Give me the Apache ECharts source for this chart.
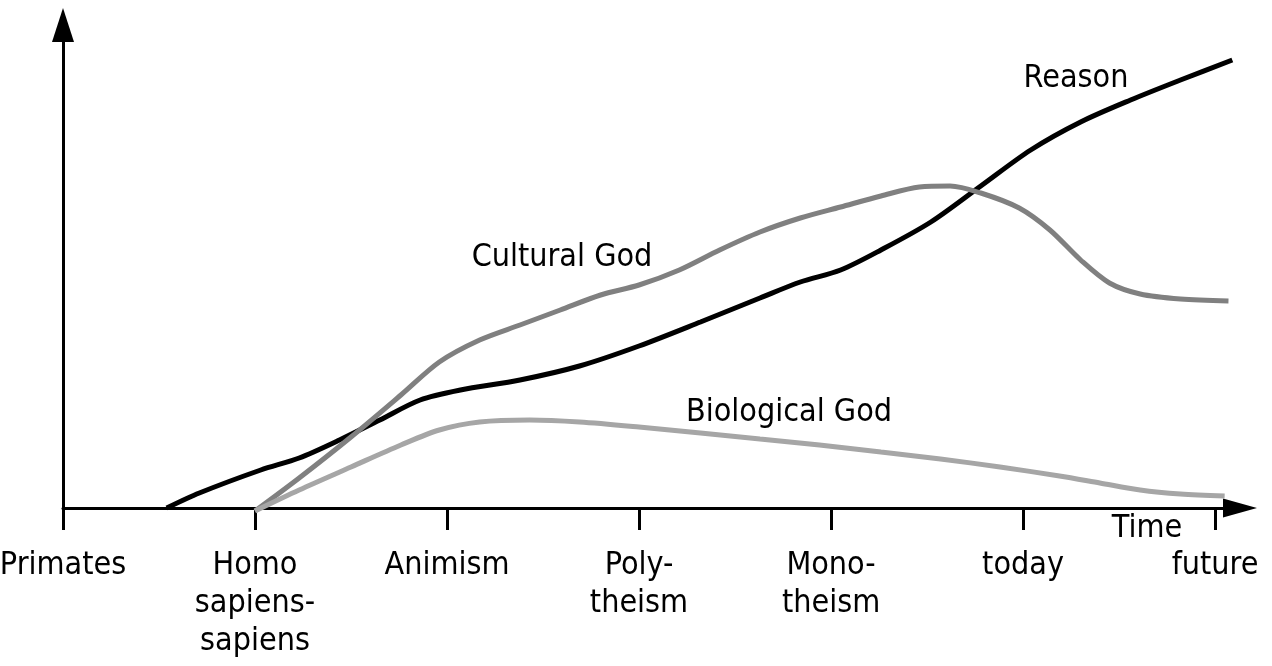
<!DOCTYPE html>
<html>
<head>
<meta charset="utf-8">
<script src="https://cdn.jsdelivr.net/npm/echarts@6/dist/echarts.min.js"></script>
<style>
html, body { margin: 0; padding: 0; background: #fff; }
#main { width: 1272px; height: 666px; }
</style>
</head>
<body>
<div id="main"></div>
<script>
var stages = ['Primates', 'Homo\nsapiens-\nsapiens', 'Animism', 'Poly-\ntheism', 'Mono-\ntheism', 'today', 'future'];

var reason = [
    [0.54, 0], [0.71, 15], [1.03, 38], [1.23, 50], [1.44, 68], [1.65, 88], [1.86, 108],
    [2.07, 118], [2.38, 128], [2.69, 142], [3.0, 162], [3.32, 186], [3.63, 210], [3.84, 226],
    [4.05, 238], [4.26, 258], [4.52, 286], [4.78, 322], [5.04, 358], [5.3, 386], [5.56, 408],
    [5.82, 428], [6.09, 448]
];
var culturalGod = [
    [1.0, -3], [1.23, 30], [1.5, 71], [1.76, 113], [1.96, 146], [2.17, 168], [2.38, 183],
    [2.59, 198], [2.8, 213], [3.0, 223], [3.21, 238], [3.42, 258], [3.63, 276], [3.84, 290],
    [4.05, 301], [4.26, 312], [4.46, 321], [4.62, 322], [4.78, 315], [4.98, 300], [5.14, 278],
    [5.3, 248], [5.45, 225], [5.61, 214], [5.82, 209], [6.07, 207]
];
var biologicalGod = [
    [1.0, -3], [1.23, 18], [1.5, 41], [1.76, 63], [1.96, 78], [2.17, 86], [2.43, 88],
    [2.69, 86], [3.0, 81], [3.32, 75], [3.63, 69], [3.94, 63], [4.26, 56], [4.57, 49],
    [4.88, 41], [5.19, 32], [5.4, 25], [5.61, 18], [5.82, 14], [6.05, 12]
];

var font = '"DejaVu Sans Condensed", "DejaVu Sans"';
var chart = echarts.init(document.getElementById('main'));

function label(text, x, y) {
    return {
        type: 'text', x: x, y: y,
        style: { text: text, font: '32px ' + font, fill: '#000', align: 'center', verticalAlign: 'middle' }
    };
}

var option = {
    animation: false,
    backgroundColor: '#fff',
    grid: { left: 63, right: 32, top: 25, bottom: 158, containLabel: false, outerBoundsMode: 'none' },
    xAxis: {
        type: 'value', min: 0, max: 6.13, interval: 1,
        splitLine: { show: false },
        axisLine: { lineStyle: { color: '#000', width: 3 }, symbol: ['none', 'triangle'], symbolSize: [19, 34] },
        axisTick: { length: 22, lineStyle: { color: '#000', width: 3 }, customValues: [0, 1, 2, 3, 4, 5, 6] },
        axisLabel: {
            customValues: [0, 1, 2, 3, 4, 5, 6],
            formatter: function (v) { return stages[Math.round(v)] || ''; },
            fontFamily: font, fontSize: 32, color: '#000', lineHeight: 38, margin: 39, align: 'center'
        }
    },
    yAxis: {
        type: 'value', min: 0, max: 483,
        splitLine: { show: false },
        axisTick: { show: false },
        axisLabel: { show: false },
        axisLine: { show: true, lineStyle: { color: '#000', width: 3 }, symbol: ['none', 'triangle'], symbolSize: [22, 34] }
    },
    series: [
        { name: 'Reason', type: 'line', data: reason, smooth: 0.3, symbol: 'none', clip: false,
          lineStyle: { color: '#000', width: 5 } },
        { name: 'Cultural God', type: 'line', data: culturalGod, smooth: 0.3, symbol: 'none', clip: false,
          lineStyle: { color: '#808080', width: 5 } },
        { name: 'Biological God', type: 'line', data: biologicalGod, smooth: 0.3, symbol: 'none', clip: false,
          lineStyle: { color: '#a6a6a6', width: 5 } }
    ],
    graphic: [
        label('Reason', 1076, 79),
        label('Cultural God', 562, 258),
        label('Biological God', 789, 413),
        label('Time', 1147, 529)
    ]
};
chart.setOption(option);
</script>
</body>
</html>
